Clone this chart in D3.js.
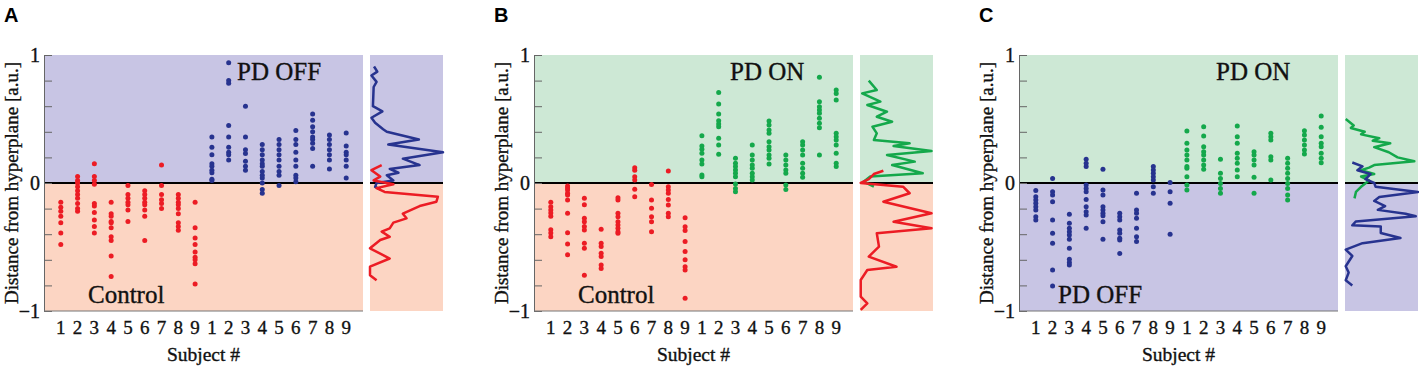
<!DOCTYPE html>
<html>
<head>
<meta charset="utf-8">
<script src="https://cdn.jsdelivr.net/npm/d3@7"></script>
<style>
  body { margin: 0; background: #fff; }
  svg { display: block; }
</style>
</head>
<body>
<div id="chart"></div>
<script>
// Subject labels (two groups of nine per panel)
const subjectLabels = ["1", "2", "3", "4", "5", "6", "7", "8", "9"];
const yTicks = [-1, -0.8, -0.6, -0.4, -0.2, 0, 0.2, 0.4, 0.6, 0.8, 1];
const yTickLabels = [-1, 0, 1];

// Panel A: Control (red) vs PD OFF (blue)
const controlA = [
    [-0.15, -0.19, -0.22, -0.26, -0.31, -0.39, -0.48],
    [0.05, 0.02, 0, -0.03, -0.06, -0.09, -0.12, -0.16, -0.2, -0.22],
    [0.15, 0.05, 0.02, -0.01, -0.16, -0.18, -0.23, -0.29, -0.34, -0.39],
    [-0.15, -0.24, -0.26, -0.3, -0.31, -0.35, -0.42, -0.45, -0.57, -0.73],
    [-0.02, -0.09, -0.12, -0.15, -0.17, -0.21, -0.3],
    [-0.06, -0.09, -0.12, -0.15, -0.17, -0.21, -0.26, -0.45],
    [0.14, -0.02, -0.09, -0.13, -0.16, -0.2],
    [-0.09, -0.12, -0.15, -0.17, -0.2, -0.24, -0.31, -0.34, -0.37],
    [-0.15, -0.35, -0.43, -0.48, -0.54, -0.58, -0.6, -0.63, -0.79]
];
const offA = [
    [0.36, 0.28, 0.22, 0.15, 0.13, 0.1, 0.08, 0.03, 0.02],
    [0.94, 0.8, 0.78, 0.45, 0.36, 0.28, 0.24, 0.22, 0.18],
    [0.6, 0.36, 0.26, 0.23, 0.17, 0.13, 0.1],
    [0.3, 0.26, 0.22, 0.18, 0.15, 0.13, 0.09, 0.06, 0.04, 0, -0.05, -0.08],
    [0.34, 0.3, 0.26, 0.22, 0.18, 0.13, 0.09, 0.06, -0.02],
    [0.41, 0.34, 0.3, 0.24, 0.18, 0.13, 0.06, 0.04, 0.01],
    [0.54, 0.49, 0.44, 0.4, 0.36, 0.34, 0.31, 0.27, 0.13],
    [0.375, 0.34, 0.3, 0.26, 0.22, 0.18, 0.11],
    [0.39, 0.29, 0.24, 0.22, 0.18, 0.13, 0.04]
];

// Panel B: Control (red) vs PD ON (green)
const controlB = [
    [-0.15, -0.185, -0.21, -0.234, -0.26, -0.365, -0.39, -0.42],
    [-0.024, -0.04, -0.055, -0.08, -0.094, -0.133, -0.237, -0.388, -0.477, -0.56],
    [-0.12, -0.17, -0.276, -0.302, -0.34, -0.367, -0.47, -0.51, -0.72],
    [-0.362, -0.471, -0.497, -0.549, -0.575, -0.64, -0.667],
    [-0.115, -0.133, -0.237, -0.263, -0.302, -0.328, -0.354, -0.38, -0.393],
    [0.12, 0.1, 0.049, 0.023, -0.049, -0.107],
    [-0.011, -0.133, -0.198, -0.263, -0.302, -0.38],
    [0.094, -0.029, -0.055, -0.081, -0.128, -0.172, -0.237, -0.263],
    [-0.271, -0.341, -0.372, -0.458, -0.536, -0.6, -0.654, -0.68, -0.9]
];
const onB = [
    [0.37, 0.29, 0.263, 0.232, 0.18, 0.148, 0.062, 0.049],
    [0.708, 0.617, 0.539, 0.487, 0.461, 0.44, 0.349, 0.297, 0.224],
    [0.193, 0.154, 0.128, 0.102, 0.076, 0.049, -0.008, -0.042, -0.068],
    [0.297, 0.219, 0.18, 0.141, 0.115, 0.076, 0.049, 0.023],
    [0.484, 0.453, 0.414, 0.388, 0.323, 0.284, 0.258, 0.219, 0.193, 0.148],
    [0.219, 0.18, 0.141, 0.102, 0.076, -0.016, -0.05],
    [0.323, 0.297, 0.258, 0.219, 0.154, 0.115, 0.076, 0.044],
    [0.826, 0.635, 0.596, 0.57, 0.544, 0.505, 0.466, 0.432, 0.219],
    [0.727, 0.7, 0.648, 0.388, 0.362, 0.336, 0.297, 0.232, 0.154, 0.128]
];

// Panel C: PD OFF (blue) vs PD ON (green)
const offC = [
    [-0.059, -0.107, -0.133, -0.159, -0.185, -0.21, -0.263, -0.289],
    [0.036, -0.068, -0.094, -0.146, -0.289, -0.393, -0.471, -0.68, -0.805],
    [-0.245, -0.315, -0.354, -0.38, -0.406, -0.44, -0.51, -0.596, -0.622, -0.64],
    [0.185, 0.154, 0.128, -0.016, -0.042, -0.068, -0.128, -0.185, -0.224, -0.25, -0.354],
    [0.107, -0.055, -0.094, -0.185, -0.21, -0.237, -0.255, -0.302, -0.44],
    [-0.237, -0.263, -0.289, -0.367, -0.393, -0.432, -0.445, -0.55],
    [-0.081, -0.21, -0.237, -0.276, -0.354, -0.419, -0.458],
    [0.128, 0.102, 0.076, 0.049, 0.023, -0.029, -0.081],
    [0.003, -0.068, -0.159, -0.401]
];
const onC = [
    [0.406, 0.31, 0.258, 0.219, 0.18, 0.128, 0.115, 0.049, -0.016, -0.055],
    [0.44, 0.367, 0.284, 0.245, 0.219, 0.18, 0.141, 0.107],
    [0.185, 0.076, 0.036, -0.003, -0.042, -0.081],
    [0.445, 0.362, 0.31, 0.232, 0.193, 0.154, 0.102, 0.049],
    [0.245, 0.219, 0.18, 0.141, 0.044, -0.081],
    [0.388, 0.362, 0.336, 0.206, 0.18, 0.023],
    [0.193, 0.154, 0.115, 0.076, 0.036, -0.003, -0.042, -0.094, -0.133],
    [0.409, 0.375, 0.336, 0.297, 0.258, 0.227],
    [0.523, 0.435, 0.362, 0.31, 0.284, 0.232, 0.193, 0.159]
];

// Side distributions: [distance, relative density]
const distOffA = [[0.91, 0.055], [0.87, 0.1], [0.84, 0.02], [0.79, 0.09], [0.75, 0.05], [0.6, 0.04], [0.56, 0.17], [0.51, 0.02],
    [0.47, 0.07], [0.42, 0.18], [0.4, 0.23], [0.34, 0.67], [0.3, 0.25], [0.24, 1.0], [0.19, 0.45], [0.14, 0.68], [0.11, 0.27],
    [0.08, 0.39], [0.06, 0.23], [0.02, 0.32], [0, 0.09], [-0.03, 0.07], [-0.05, 0.14]];
const distCtrlA = [[0.14, 0.16], [0.1, 0.02], [0.05, 0.14], [0.02, 0.05], [-0.01, 0.32], [-0.04, 0.09], [-0.07, 0.2],
    [-0.107, 0.93], [-0.146, 0.91], [-0.18, 0.68], [-0.24, 0.45], [-0.276, 0.5], [-0.31, 0.32], [-0.354, 0.27], [-0.38, 0.16],
    [-0.42, 0.27], [-0.445, 0.14], [-0.51, 0], [-0.59, 0.27], [-0.654, 0], [-0.72, 0], [-0.76, 0.09]];
const distOnB = [[0.8, 0.12], [0.727, 0.23], [0.7, 0.03], [0.636, 0.28], [0.609, 0.1], [0.557, 0.37], [0.518, 0.23],
    [0.479, 0.44], [0.44, 0.17], [0.388, 0.23], [0.336, 0.19], [0.31, 0.68], [0.289, 0.46], [0.25, 0.98], [0.219, 0.37],
    [0.167, 0.75], [0.141, 0.44], [0.076, 0.86], [0.05, 0.14], [0.01, 0.05], [-0.029, 0.19]];
const distCtrlB = [[0.096, 0.32], [0.07, 0.19], [0.03, 0.12], [0, 0.01], [-0.029, 0.59], [-0.08, 0.68], [-0.146, 0.32],
    [-0.237, 0.98], [-0.302, 0.46], [-0.354, 0.98], [-0.393, 0.23], [-0.497, 0.26], [-0.575, 0.12], [-0.654, 0.5],
    [-0.68, 0.1], [-0.758, 0.01], [-0.888, 0.01], [-0.94, 0.1], [-0.992, 0.01]];
const distOnC = [[0.5, 0.01], [0.45, 0.12], [0.43, 0.08], [0.4, 0.27], [0.38, 0.22], [0.35, 0.47], [0.33, 0.38],
    [0.31, 0.62], [0.28, 0.4], [0.24, 0.6], [0.2, 0.72], [0.17, 0.95], [0.14, 0.4], [0.12, 0.33], [0.1, 0.22],
    [0.07, 0.4], [0.05, 0.22], [0.02, 0.33], [-0.03, 0.22], [-0.07, 0.15], [-0.12, 0.13]];
const distOffC = [[0.16, 0.1], [0.13, 0.24], [0.1, 0.17], [0.07, 0.35], [0.03, 0.28], [0, 0.4], [-0.03, 0.42],
    [-0.07, 1.0], [-0.11, 0.47], [-0.14, 0.4], [-0.18, 0.55], [-0.21, 0.45], [-0.24, 0.83], [-0.26, 0.97],
    [-0.3, 0.15], [-0.33, 0.1], [-0.34, 0.49], [-0.39, 0.49], [-0.43, 0.76], [-0.47, 0.24], [-0.52, 0.01],
    [-0.57, 0.1], [-0.65, 0.01], [-0.7, 0.05], [-0.76, 0.01], [-0.8, 0.1]];

// Colours
const colors = {
    control: "#ec1c24", off: "#27338f", on: "#14a84b",
    controlBg: "#fcd5c3", offBg: "#c8c5e4", onBg: "#cde8d5"
};

const panels = [
    { letter: "A", left: 44, first: controlA, second: offA, firstKey: "control", secondKey: "off",
      topKey: "off", bottomKey: "control", dists: [[distOffA, "off"], [distCtrlA, "control"]],
      topLabel: "PD OFF", topDx: 193, bottomLabel: "Control", bottomDx: 44 },
    { letter: "B", left: 534, first: controlB, second: onB, firstKey: "control", secondKey: "on",
      topKey: "on", bottomKey: "control", dists: [[distOnB, "on"], [distCtrlB, "control"]],
      topLabel: "PD ON", topDx: 196, bottomLabel: "Control", bottomDx: 44 },
    { letter: "C", left: 1019, first: offC, second: onC, firstKey: "off", secondKey: "on",
      topKey: "on", bottomKey: "off", dists: [[distOnC, "on"], [distOffC, "off"]],
      topLabel: "PD ON", topDx: 197, bottomLabel: "PD OFF", bottomDx: 39 }
];

const width = 1419, height = 367;
const plotW = 319, sideGap = 7, sideW = 73;
const plotTop = 55, plotBottom = 311;
const serif = "'Liberation Serif', 'Times New Roman', serif";

const svg = d3.select("#chart").append("svg")
    .attr("width", width)
    .attr("height", height);

const y = d3.scaleLinear().domain([-1, 1]).range([plotBottom, plotTop]);

// serif text helper, slightly heavier like the scanned figure
function serifText(sel, size) {
    return sel.style("font-family", serif).style("font-size", size + "px")
        .attr("fill", "#111").attr("stroke", "#111").attr("stroke-width", 0.35);
}

panels.forEach(p => {
    const g = svg.append("g");
    const plotRight = p.left + plotW;
    const sideLeft = plotRight + sideGap;

    // x scale over 18 subjects
    const x = d3.scalePoint()
        .domain(d3.range(18))
        .range([p.left, plotRight])
        .padding(1);
    const xs = d3.scaleLinear().domain([0, 1]).range([sideLeft, sideLeft + sideW]);

    // Backgrounds (main and side)
    [[p.left, plotW], [sideLeft, sideW]].forEach(([x0, w]) => {
        g.append("rect").attr("x", x0).attr("y", y(1)).attr("width", w).attr("height", y(0) - y(1))
            .attr("fill", colors[p.topKey + "Bg"]);
        g.append("rect").attr("x", x0).attr("y", y(0)).attr("width", w).attr("height", y(-1) - y(0))
            .attr("fill", colors[p.bottomKey + "Bg"]);
    });

    // Zero lines
    g.append("line").attr("x1", p.left).attr("x2", plotRight).attr("y1", y(0)).attr("y2", y(0))
        .attr("stroke", "#000").attr("stroke-width", 2);
    g.append("line").attr("x1", sideLeft).attr("x2", sideLeft + sideW).attr("y1", y(0)).attr("y2", y(0))
        .attr("stroke", "#000").attr("stroke-width", 2);

    // Y axis with inward ticks
    const yAxis = d3.axisRight(y).tickValues(yTicks).tickSize(8).tickFormat("");
    g.append("g").attr("transform", `translate(${p.left},0)`).call(yAxis)
        .call(a => a.select(".domain").attr("stroke", "#666"))
        .call(a => a.selectAll(".tick line").attr("stroke", "#666"));
    g.append("line").attr("x1", p.left).attr("x2", plotRight).attr("y1", plotBottom).attr("y2", plotBottom)
        .attr("stroke", "#777").attr("stroke-width", 1);

    g.selectAll("text.ytl").data(yTickLabels).join("text")
        .attr("class", "ytl")
        .attr("x", p.left - 4)
        .attr("y", d => y(d))
        .attr("dy", "0.35em")
        .attr("text-anchor", "end")
        .call(serifText, 20)
        .text(d => d < 0 ? "\u2212" + Math.abs(d) : d);

    // Subject tick labels
    g.selectAll("text.xtl").data(d3.range(18)).join("text")
        .attr("class", "xtl")
        .attr("x", d => x(d))
        .attr("y", 334)
        .attr("text-anchor", "middle")
        .call(serifText, 19)
        .text(d => subjectLabels[d % 9]);

    g.append("text")
        .attr("x", (p.left + plotRight) / 2).attr("y", 361)
        .attr("text-anchor", "middle")
        .call(serifText, 19.5)
        .text("Subject #");

    g.append("text")
        .attr("transform", `translate(${p.left - 26},${y(0)}) rotate(-90)`)
        .attr("text-anchor", "middle")
        .call(serifText, 19)
        .text("Distance from hyperplane [a.u.]");

    // Panel letter
    g.append("text")
        .attr("x", p.left - 40).attr("y", 22)
        .style("font-family", "'Liberation Sans', Arial, sans-serif")
        .style("font-size", "20px").style("font-weight", "bold")
        .text(p.letter);

    // Group labels
    g.append("text").attr("x", p.left + p.topDx).attr("y", 80)
        .call(serifText, 25).text(p.topLabel);
    g.append("text").attr("x", p.left + p.bottomDx).attr("y", 303)
        .call(serifText, 25).text(p.bottomLabel);

    // Dots
    const points = [];
    p.first.forEach((vals, i) => vals.forEach(v => points.push({ s: i, v, key: p.firstKey })));
    p.second.forEach((vals, i) => vals.forEach(v => points.push({ s: i + 9, v, key: p.secondKey })));
    g.selectAll("circle").data(points).join("circle")
        .attr("cx", d => x(d.s))
        .attr("cy", d => y(d.v))
        .attr("r", 2.5)
        .attr("fill", d => colors[d.key]);

    // Side distributions
    const line = d3.line().x(d => xs(d[1])).y(d => y(d[0]));
    p.dists.forEach(([data, key]) => {
        g.append("path").attr("d", line(data))
            .attr("fill", "none")
            .attr("stroke", colors[key])
            .attr("stroke-width", 2.5)
            .attr("stroke-linejoin", "round");
    });
});
</script>
</body>
</html>
